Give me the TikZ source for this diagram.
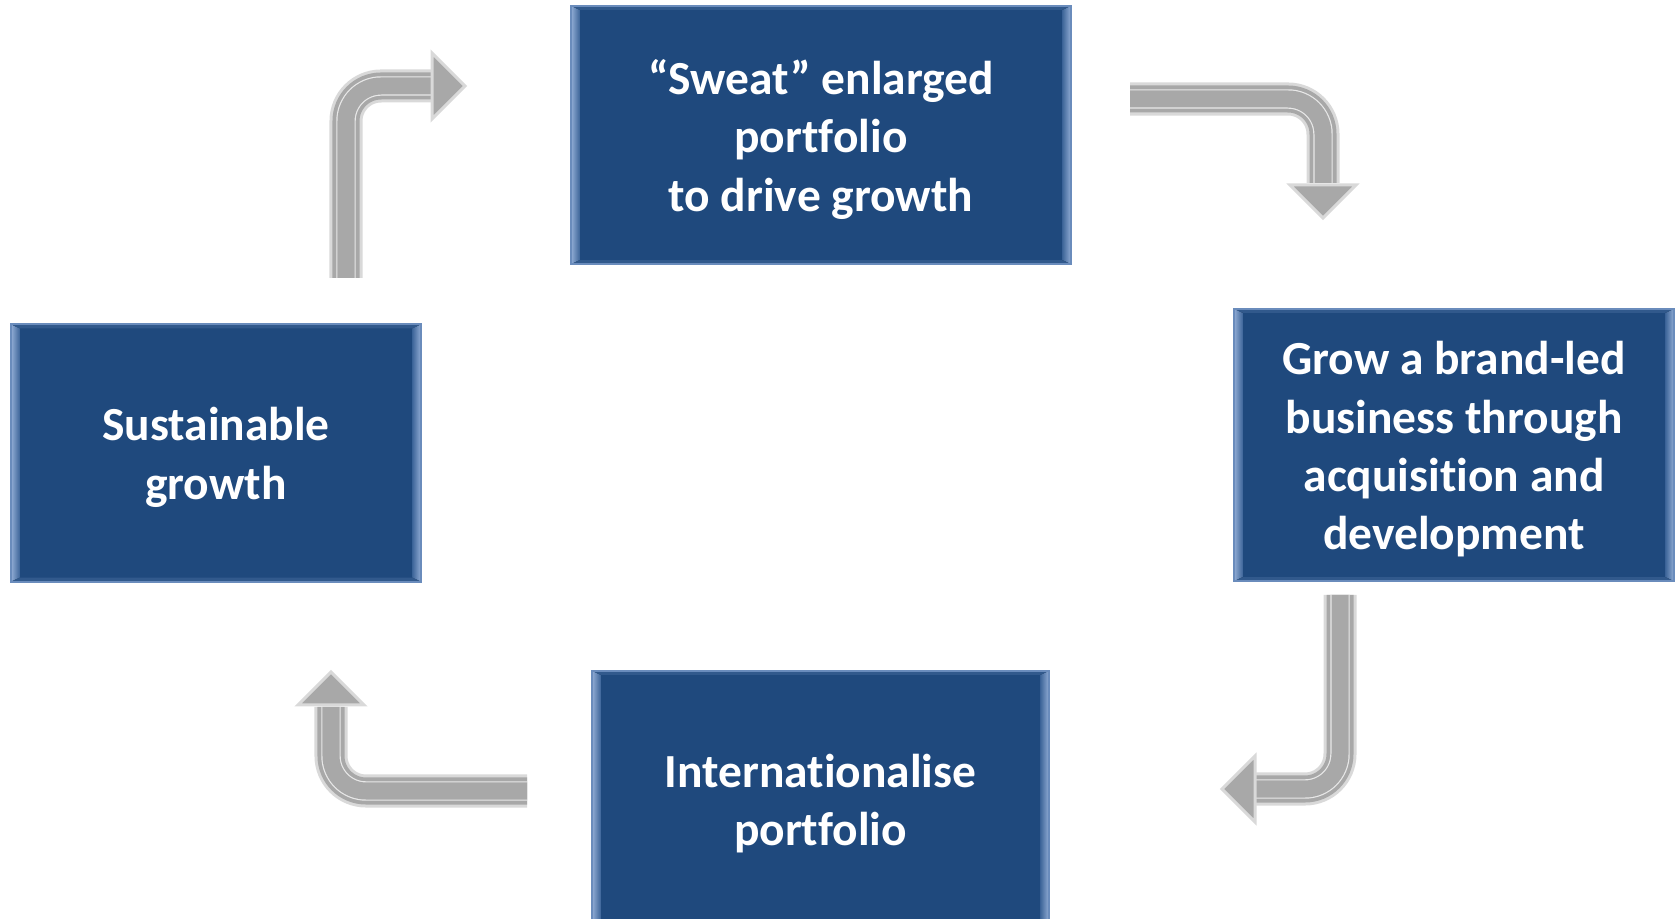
\documentclass[tikz,border=0pt]{standalone}
\usepackage{fontspec}
\setmainfont{Carlito}[Ligatures={NoCommon}]
\usetikzlibrary{positioning}
\definecolor{stageBlue}{HTML}{1F497D}
\definecolor{stageEdge}{HTML}{6A8CBC}
\definecolor{bevelHi}{HTML}{93AED6}
\definecolor{bevelLo}{HTML}{3C6498}
\definecolor{bevelTop}{HTML}{31598C}
\definecolor{arrowGray}{HTML}{A8A8A8}
\definecolor{arrowRim}{HTML}{D9D9D9}
\definecolor{arrowHi}{HTML}{E8E8E8}
\tikzset{
  stage/.style={fill=stageBlue,draw=stageEdge,line width=0.6pt,inner sep=0pt},
  stagetext/.style={text=white,font=\bfseries\fontsize{13.5}{16.6}\selectfont,
    align=center,inner sep=0pt},
  shaft/.style={rounded corners=0.35cm,draw=arrowRim,double=arrowGray,
    double distance=0.27cm,line width=0.03cm,
    postaction={draw=arrowHi,double=arrowGray,double distance=0.17cm,
      line width=0.012cm}},
  tiphead/.style={fill=arrowGray,draw=arrowRim,line width=0.03cm,line join=miter}
}
% light strips on the sides of a box
\newcommand{\bevel}[1]{%
  \fill[left color=bevelHi,right color=bevelLo]
    (#1.north west) -- ([shift={(9,4)}]#1.north west)
    -- ([shift={(9,-4)}]#1.south west) -- (#1.south west) -- cycle;
  \fill[left color=bevelLo,right color=bevelHi]
    (#1.north east) -- ([shift={(-9,4)}]#1.north east)
    -- ([shift={(-9,-4)}]#1.south east) -- (#1.south east) -- cycle;
  \fill[bevelTop]
    (#1.north west) -- ([shift={(9,4)}]#1.north west)
    -- ([shift={(-9,4)}]#1.north east) -- (#1.north east) -- cycle;
  \fill[bevelTop]
    (#1.south west) -- ([shift={(9,-4)}]#1.south west)
    -- ([shift={(-9,-4)}]#1.south east) -- (#1.south east) -- cycle;
  \draw[stageEdge,line width=0.6pt] (#1.north west) rectangle (#1.south east);
}

\begin{document}
\begin{tikzpicture}[x=0.01cm,y=-0.01cm]
  \useasboundingbox (0,0) rectangle (1675,919);

  \node[stage,minimum width=4.98cm,minimum height=2.56cm] (sweat) at (821,135) {};
  \node[stage,minimum width=4.38cm,minimum height=2.70cm] (brand) at (1454,445) {};
  \node[stage,minimum width=4.55cm,minimum height=2.54cm] (intl) at (820.5,799) {};
  \node[stage,minimum width=4.08cm,minimum height=2.55cm] (sustain) at (216,453) {};
  \foreach \b in {sweat,brand,intl,sustain} {\bevel{\b}}

  \node[stagetext] (sweatText) at ([yshift=-0.045cm]sweat)
    {“Sweat” enlarged\\portfolio\\to drive growth};
  \node[stagetext] (brandText) at ([yshift=-0.045cm]brand)
    {Grow a brand-led\\business through\\acquisition and\\development};
  \node[stagetext] (intlText) at ([yshift=-0.045cm]intl)
    {Internationalise\\portfolio};
  \node[stagetext] (sustainText) at ([yshift=-0.045cm]sustain)
    {Sustainable\\growth};

  % bent arrows round the cycle
  \coordinate (a1s) at (346,278);  \coordinate (a1e) at (434,86);
  \coordinate (a2s) at (1130,99);  \coordinate (a2e) at (1323,183);
  \coordinate (a3s) at (1340,595); \coordinate (a3e) at (1253,789);
  \coordinate (a4s) at (527,791);  \coordinate (a4e) at (331,707);

  \draw[shaft] (a1s) |- (a1e);
  \filldraw[tiphead] (a1e) ++(-2,-33) -- ++(33,33) -- ++(-33,33) -- cycle;

  \draw[shaft] (a2s) -| (a2e);
  \filldraw[tiphead] (a2e) ++(-33,2) -- ++(33,33) -- ++(33,-33) -- cycle;

  \draw[shaft] (a3s) |- (a3e);
  \filldraw[tiphead] (a3e) ++(2,-33) -- ++(-33,33) -- ++(33,33) -- cycle;

  \draw[shaft] (a4s) -| (a4e);
  \filldraw[tiphead] (a4e) ++(-33,-2) -- ++(33,-33) -- ++(33,33) -- cycle;
\end{tikzpicture}
\end{document}
